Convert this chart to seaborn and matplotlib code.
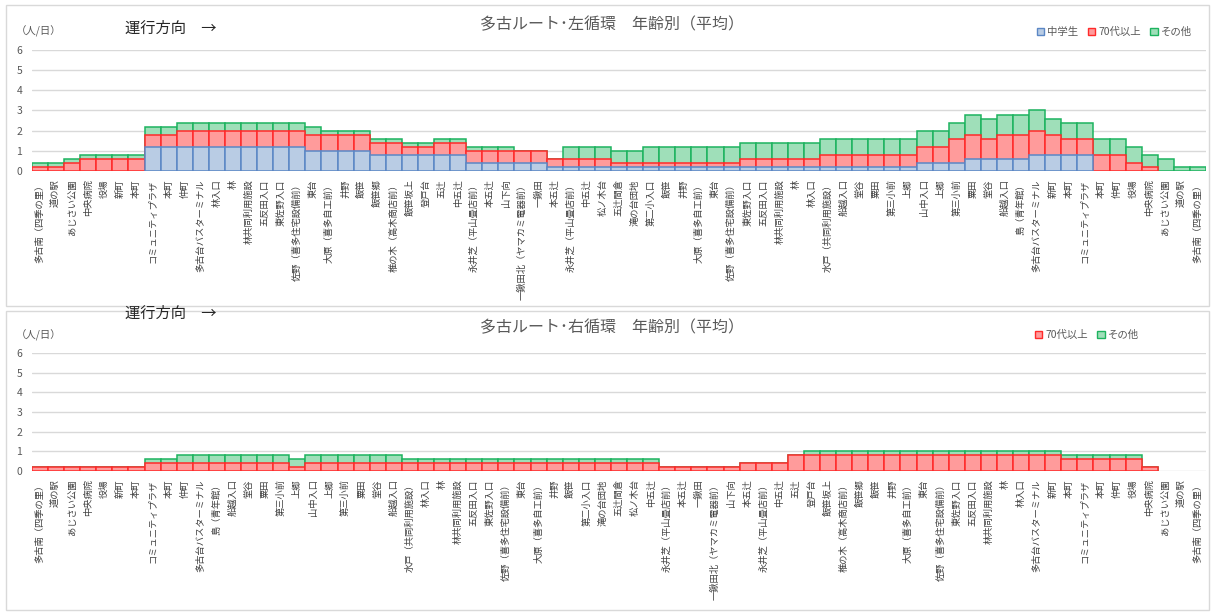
import matplotlib
matplotlib.use("Agg")
import matplotlib.pyplot as plt
from matplotlib.patches import Patch, Rectangle
import numpy as np
import pandas as pd
import seaborn as sns

# ---------------- data ----------------
left_stops = [
    "多古南（四季の里）", "道の駅", "あじさい公園", "中央病院", "役場", "新町", "本町",
    "コミュニティプラザ", "本町", "仲町", "多古台バスターミナル", "林入口", "林",
    "林共同利用施設", "五反田入口", "東佐野入口", "佐野（喜多住宅設備前）", "東台",
    "大原（喜多自工前）", "井野", "飯笹", "飯笹郷", "椎の木（高木商店前）", "飯笹坂上",
    "登戸台", "五辻", "中五辻", "永井芝（平山畳店前）", "本五辻", "山下向",
    "一鍬田北（ヤマカミ電器前）", "一鍬田", "本五辻", "永井芝（平山畳店前）", "中五辻",
    "松ノ木台", "五辻間倉", "滝の台団地", "第二小入口", "飯笹", "井野",
    "大原（喜多自工前）", "東台", "佐野（喜多住宅設備前）", "東佐野入口", "五反田入口",
    "林共同利用施設", "林", "林入口", "水戸（共同利用施設）", "船越入口", "堂谷", "粟田",
    "第三小前", "上郷", "山中入口", "上郷", "第三小前", "粟田", "堂谷", "船越入口",
    "島（青年館）", "多古台バスターミナル", "新町", "本町", "コミュニティプラザ", "本町",
    "仲町", "役場", "中央病院", "あじさい公園", "道の駅", "多古南（四季の里）",
]
left_junior = [
    0, 0, 0, 0, 0, 0, 0,
    1.2, 1.2, 1.2, 1.2, 1.2, 1.2, 1.2, 1.2, 1.2, 1.2,
    1.0, 1.0, 1.0, 1.0,
    0.8, 0.8, 0.8, 0.8, 0.8, 0.8,
    0.4, 0.4, 0.4, 0.4, 0.4,
    0.2, 0.2, 0.2, 0.2, 0.2, 0.2,
    0.2, 0.2, 0.2, 0.2, 0.2, 0.2,
    0.2, 0.2, 0.2, 0.2, 0.2,
    0.2, 0.2, 0.2, 0.2, 0.2, 0.2,
    0.4, 0.4, 0.4,
    0.6, 0.6, 0.6, 0.6,
    0.8, 0.8, 0.8, 0.8,
    0, 0, 0, 0, 0, 0, 0,
]
left_senior = [
    0.2, 0.2, 0.4, 0.6, 0.6, 0.6, 0.6,
    0.6, 0.6, 0.8, 0.8, 0.8, 0.8, 0.8, 0.8, 0.8, 0.8,
    0.8, 0.8, 0.8, 0.8,
    0.6, 0.6, 0.4, 0.4, 0.6, 0.6,
    0.6, 0.6, 0.6, 0.6, 0.6,
    0.4, 0.4, 0.4, 0.4, 0.2, 0.2,
    0.2, 0.2, 0.2, 0.2, 0.2, 0.2,
    0.4, 0.4, 0.4, 0.4, 0.4,
    0.6, 0.6, 0.6, 0.6, 0.6, 0.6,
    0.8, 0.8, 1.2,
    1.2, 1.0, 1.2, 1.2,
    1.2, 1.0, 0.8, 0.8,
    0.8, 0.8, 0.4, 0.2, 0, 0, 0,
]
left_other = [
    0.2, 0.2, 0.2, 0.2, 0.2, 0.2, 0.2,
    0.4, 0.4, 0.4, 0.4, 0.4, 0.4, 0.4, 0.4, 0.4, 0.4,
    0.4, 0.2, 0.2, 0.2,
    0.2, 0.2, 0.2, 0.2, 0.2, 0.2,
    0.2, 0.2, 0.2, 0, 0,
    0, 0.6, 0.6, 0.6, 0.6, 0.6,
    0.8, 0.8, 0.8, 0.8, 0.8, 0.8,
    0.8, 0.8, 0.8, 0.8, 0.8,
    0.8, 0.8, 0.8, 0.8, 0.8, 0.8,
    0.8, 0.8, 0.8,
    1.0, 1.0, 1.0, 1.0,
    1.0, 0.8, 0.8, 0.8,
    0.8, 0.8, 0.8, 0.6, 0.6, 0.2, 0.2,
]

right_stops = [
    "多古南（四季の里）", "道の駅", "あじさい公園", "中央病院", "役場", "新町", "本町",
    "コミュニティプラザ", "本町", "仲町", "多古台バスターミナル", "島（青年館）", "船越入口",
    "堂谷", "粟田", "第三小前", "上郷", "山中入口", "上郷", "第三小前", "粟田", "堂谷",
    "船越入口", "水戸（共同利用施設）", "林入口", "林", "林共同利用施設", "五反田入口",
    "東佐野入口", "佐野（喜多住宅設備前）", "東台", "大原（喜多自工前）", "井野", "飯笹",
    "第二小入口", "滝の台団地", "五辻間倉", "松ノ木台", "中五辻", "永井芝（平山畳店前）",
    "本五辻", "一鍬田", "一鍬田北（ヤマカミ電器前）", "山下向", "本五辻",
    "永井芝（平山畳店前）", "中五辻", "五辻", "登戸台", "飯笹坂上", "椎の木（高木商店前）",
    "飯笹郷", "飯笹", "井野", "大原（喜多自工前）", "東台", "佐野（喜多住宅設備前）",
    "東佐野入口", "五反田入口", "林共同利用施設", "林", "林入口", "多古台バスターミナル",
    "新町", "本町", "コミュニティプラザ", "本町", "仲町", "役場", "中央病院", "あじさい公園",
    "道の駅", "多古南（四季の里）",
]
right_senior = [
    0.2, 0.2, 0.2, 0.2, 0.2, 0.2, 0.2,
    0.4, 0.4, 0.4, 0.4, 0.4, 0.4, 0.4, 0.4, 0.4,
    0.2, 0.4, 0.4, 0.4, 0.4, 0.4, 0.4,
    0.4, 0.4, 0.4, 0.4, 0.4, 0.4, 0.4, 0.4, 0.4, 0.4, 0.4, 0.4, 0.4, 0.4, 0.4, 0.4,
    0.2, 0.2, 0.2, 0.2, 0.2,
    0.4, 0.4, 0.4,
    0.8,
    0.8, 0.8, 0.8, 0.8, 0.8, 0.8, 0.8, 0.8, 0.8, 0.8, 0.8, 0.8, 0.8, 0.8, 0.8, 0.8,
    0.6, 0.6, 0.6, 0.6, 0.6,
    0.2, 0, 0, 0,
]
right_other = [
    0, 0, 0, 0, 0, 0, 0,
    0.2, 0.2, 0.4, 0.4, 0.4, 0.4, 0.4, 0.4, 0.4,
    0.4, 0.4, 0.4, 0.4, 0.4, 0.4, 0.4,
    0.2, 0.2, 0.2, 0.2, 0.2, 0.2, 0.2, 0.2, 0.2, 0.2, 0.2, 0.2, 0.2, 0.2, 0.2, 0.2,
    0, 0, 0, 0, 0,
    0, 0, 0,
    0,
    0.2, 0.2, 0.2, 0.2, 0.2, 0.2, 0.2, 0.2, 0.2, 0.2, 0.2, 0.2, 0.2, 0.2, 0.2, 0.2,
    0.2, 0.2, 0.2, 0.2, 0.2,
    0, 0, 0, 0,
]

series_names = ["中学生", "70代以上", "その他"]
y_ticks = [0, 1, 2, 3, 4, 5, 6]
title_left = "多古ルート･左循環　年齢別（平均）"
title_right = "多古ルート･右循環　年齢別（平均）"
unit_label = "（人/日）"
direction_label = "運行方向　→"

# ---------------- style ----------------
FILL = {"中学生": "#b9cce4", "70代以上": "#ff9b9b", "その他": "#9fdfb9"}
EDGE = {"中学生": "#5b87c5", "70代以上": "#ff2a2a", "その他": "#1db35f"}
GRID = "#d9d9d9"
TXT = "#595959"

sns.set_theme(style="white")
plt.rcParams["font.family"] = ["Noto Sans CJK JP", "DejaVu Sans"]

W, H = 1213, 613
fig = plt.figure(figsize=(W / 100, H / 100), dpi=100)


def fx(px):
    return px / W


def fy(py):
    return 1 - py / H


def draw_panel(ax, stops, layers):
    n = len(stops)
    for name, cum in layers:
        vals = [v if v > 1e-9 else np.nan for v in cum]
        d = pd.DataFrame({"idx": list(range(n)), "v": vals})
        sns.barplot(data=d, x="idx", y="v", order=list(range(n)),
                    color=FILL[name], saturation=1, edgecolor=EDGE[name],
                    linewidth=1.1, width=1.0, errorbar=None, ax=ax, zorder=2)
    ax.set_xlim(-0.5, n - 0.5)
    ax.set_ylim(0, 6)
    ax.set_yticks(y_ticks)
    ax.set_yticklabels([str(t) for t in y_ticks], fontsize=7.5, color=TXT)
    ax.set_xticks(list(range(n)))
    ax.set_xticklabels(stops, rotation=90, fontsize=6.7, color="#404040")
    ax.tick_params(axis="both", length=0)
    ax.tick_params(axis="y", pad=7)
    ax.tick_params(axis="x", pad=6)
    ax.set_xlabel("")
    ax.set_ylabel("")
    for s in ax.spines.values():
        s.set_visible(False)
    ax.set_axisbelow(True)
    ax.yaxis.grid(True, color=GRID, linewidth=1.0, zorder=0)
    ax.xaxis.grid(False)


# ---------------- top panel ----------------
ax1 = fig.add_axes([fx(32), fy(171), fx(1206) - fx(32), fy(50) - fy(171)])
cum_j = left_junior
cum_s = [a + b for a, b in zip(left_junior, left_senior)]
cum_o = [a + b for a, b in zip(cum_s, left_other)]
draw_panel(ax1, left_stops, [("その他", cum_o), ("70代以上", cum_s), ("中学生", cum_j)])

# ---------------- bottom panel ----------------
ax2 = fig.add_axes([fx(32), fy(471), fx(1206) - fx(32), fy(353) - fy(471)])
cum_s2 = right_senior
cum_o2 = [a + b for a, b in zip(right_senior, right_other)]
draw_panel(ax2, right_stops, [("その他", cum_o2), ("70代以上", cum_s2)])

# ---------------- frames ----------------
for top, bot in [(5, 306), (311, 610)]:
    fig.add_artist(Rectangle((fx(6), fy(bot)), fx(1209) - fx(6), fy(top) - fy(bot),
                             transform=fig.transFigure, fill=False,
                             edgecolor=GRID, linewidth=1.0))

# ---------------- texts ----------------
fig.text(fx(612), fy(25), title_left, ha="center", va="center", fontsize=11.5, color=TXT)
fig.text(fx(612), fy(328), title_right, ha="center", va="center", fontsize=11.5, color=TXT)
fig.text(fx(125), fy(28), direction_label, ha="left", va="center", fontsize=11, color="#262626")
fig.text(fx(125), fy(313), direction_label, ha="left", va="center", fontsize=11, color="#262626")
fig.text(fx(16), fy(31), unit_label, ha="left", va="center", fontsize=7.5, color=TXT)
fig.text(fx(16), fy(335), unit_label, ha="left", va="center", fontsize=7.5, color=TXT)

# ---------------- legends ----------------
def make_handles(names):
    return [Patch(facecolor=FILL[nm], edgecolor=EDGE[nm], linewidth=1.0, label=nm) for nm in names]

leg_kw = dict(frameon=False, fontsize=7.5, handlelength=0.7, handleheight=0.7,
              handletextpad=0.3, columnspacing=0.9, borderaxespad=0, labelcolor=TXT)
fig.legend(handles=make_handles(series_names), loc="center right",
           bbox_to_anchor=(fx(1196), fy(32)), ncol=3, **leg_kw)
fig.legend(handles=make_handles(series_names[1:]), loc="center right",
           bbox_to_anchor=(fx(1143), fy(335)), ncol=2, **leg_kw)

fig.savefig("out.png", dpi=100)
